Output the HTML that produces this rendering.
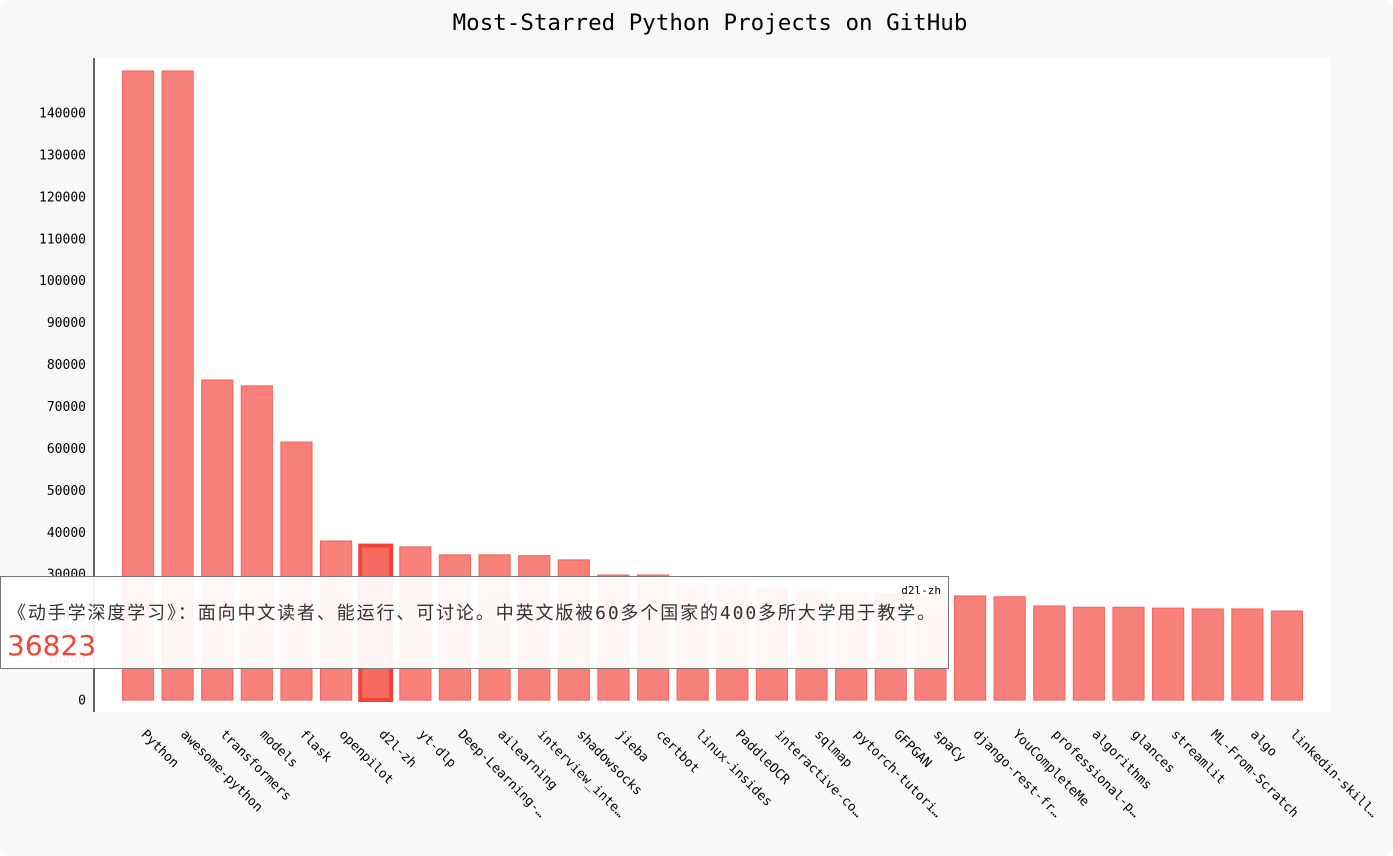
<!DOCTYPE html>
<html><head><meta charset="utf-8">
<style>
html,body{margin:0;padding:0;background:#fff;}
svg{display:block;font-family:"DejaVu Sans Mono","Liberation Mono",monospace;}
</style></head>
<body>
<svg id="chart" width="1393" height="856" xmlns="http://www.w3.org/2000/svg">
  <rect x="0" y="0" width="1393" height="856" rx="10" fill="#f8f8f8"/>
  <text x="710" y="30" text-anchor="middle" font-size="22.5" fill="#000">Most-Starred Python Projects on GitHub</text>
  <rect x="94" y="58" width="1236" height="654" fill="#fff"/>
  <g id="yaxis"></g>
  <g id="bars"></g>
  <g id="xaxis"></g>
  <line x1="94" y1="58" x2="94" y2="712" stroke="#000" stroke-width="1.2"/>
  <g>
    <rect x="0.5" y="576.5" width="948" height="92" fill="#fff" fill-opacity="0.93" stroke="#777" stroke-width="1"/>
    <text x="941" y="594" text-anchor="end" font-size="11" fill="#000">d2l-zh</text>
    <text x="8" y="619" font-size="18" fill="#333" textLength="927" lengthAdjust="spacing" font-family="'DejaVu Sans Mono','Noto Sans CJK SC',sans-serif">《动手学深度学习》：面向中文读者、能运行、可讨论。中英文版被60多个国家的400多所大学用于教学。</text>
    <text x="7" y="655" font-size="28" fill="#f44336" font-family="'DejaVu Sans',sans-serif">36823</text>
  </g>
</svg>
<script>
const names = ["Python","awesome-python","transformers","models","flask","openpilot","d2l-zh","yt-dlp","Deep-Learning-…","ailearning","interview_inte…","shadowsocks","jieba","certbot","linux-insides","PaddleOCR","interactive-co…","sqlmap","pytorch-tutori…","GFPGAN","spaCy","django-rest-fr…","YouCompleteMe","professional-p…","algorithms","glances","streamlit","ML-From-Scratch","algo","linkedin-skill…"];
const stars = [150000,150000,76300,74900,61500,37900,36823,36500,34600,34600,34400,33400,29800,29800,27700,27400,26700,25800,25500,25300,24800,24800,24600,22400,22100,22100,21900,21700,21700,21200];
const yTicks = [0,10000,20000,30000,40000,50000,60000,70000,80000,90000,100000,110000,120000,130000,140000];
const highlighted = "d2l-zh";

const NS = "http://www.w3.org/2000/svg";
const y0 = 700, pxPer = 41.93/10000;
const yScale = v => y0 - v*pxPer;
const x0 = 122, pitch = 39.62, bw = 31;
const xScale = i => x0 + i*pitch;

const yax = document.getElementById('yaxis');
yTicks.forEach(t => {
  const tx = document.createElementNS(NS,'text');
  tx.setAttribute('x', 86);
  tx.setAttribute('y', yScale(t)+4.5);
  tx.setAttribute('text-anchor','end');
  tx.setAttribute('font-size','13');
  tx.setAttribute('fill','#000');
  tx.textContent = t;
  
  
  yax.appendChild(tx);
});

const bars = document.getElementById('bars');
const xax = document.getElementById('xaxis');
names.forEach((n,i) => {
  const r = document.createElementNS(NS,'rect');
  const hi = n === highlighted;
  const top = yScale(stars[i]);
  r.setAttribute('x', xScale(i)+0.5);
  r.setAttribute('y', top);
  r.setAttribute('width', bw);
  r.setAttribute('height', y0 - top);
  r.setAttribute('fill', hi ? '#f86a5f' : '#f8827b');
  r.setAttribute('stroke', hi ? '#f44336' : '#f7675d');
  r.setAttribute('stroke-width', hi ? 4 : 1.2);
  
  
  bars.appendChild(r);

  const cx = xScale(i) + bw/2 + 3;
  const t = document.createElementNS(NS,'text');
  t.setAttribute('x', cx);
  t.setAttribute('y', 735);
  t.setAttribute('font-size','13');
  t.setAttribute('fill','#000');
  t.setAttribute('transform', `rotate(45 ${cx} 735)`);
  t.textContent = n;
  
  
  xax.appendChild(t);
});
</script>
</body></html>
